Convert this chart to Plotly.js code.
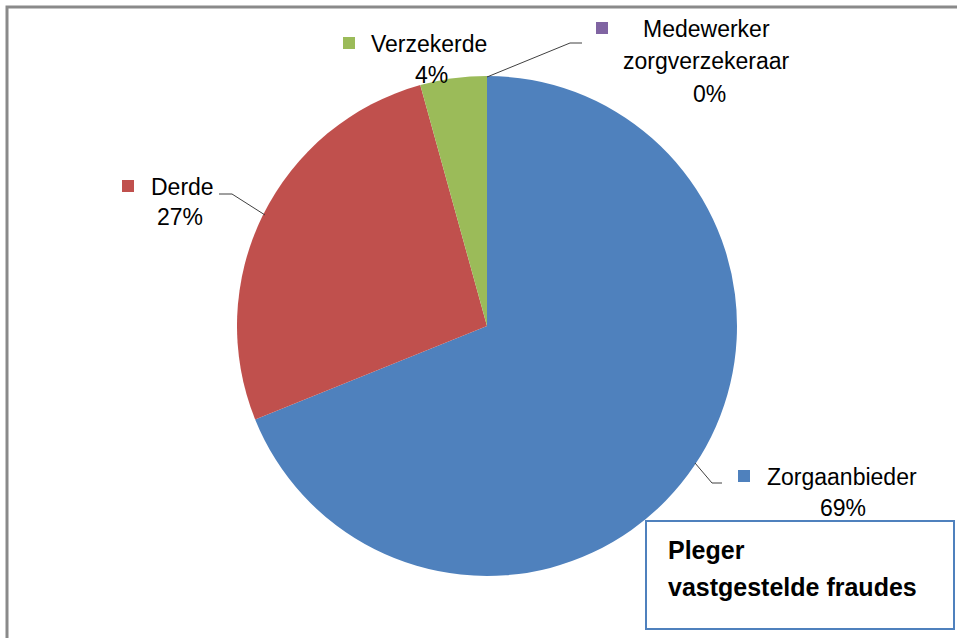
<!DOCTYPE html>
<html>
<head>
<meta charset="utf-8">
<script src="https://cdn.plot.ly/plotly-3.0.1.min.js"></script>
<style>html,body{margin:0;padding:0;background:#fff;}#chart{width:957px;height:638px;}</style>
</head>
<body>
<div id="chart"></div>
<script>
// ---- data ----
const categories = ["Zorgaanbieder", "Derde", "Verzekerde", "Medewerker zorgverzekeraar"];
const values = [68.9, 26.8, 4.3, 0];
const colors = ["#4F81BD", "#C0504D", "#9BBB59", "#8064A2"];
const chartTitle = ["Pleger", "vastgestelde fraudes"];

// ---- layout helpers (pixel -> paper) ----
const W = 957, H = 638;
const px = x => x / W;
const py = y => 1 - y / H;
const FONT = "Liberation Sans, Arial, sans-serif";
const FS = 23;

const total = values.reduce((a, b) => a + b, 0);
const pct = values.map(v => Math.round(v / total * 100) + "%");

const labelPos = [
  {key: [738, 470], nameLines: [{t: categories[0], x: 765, y: 477, a: "left"}], pct: [843, 508]},
  {key: [122, 180], nameLines: [{t: categories[1], x: 149, y: 187, a: "left"}], pct: [180, 217]},
  {key: [343, 37], nameLines: [{t: categories[2], x: 369, y: 44, a: "left"}], pct: [431, 75]},
  {key: [596, 22], nameLines: [{t: "Medewerker", x: 641, y: 29, a: "left"}, {t: "zorgverzekeraar", x: 706, y: 61, a: "center"}], pct: [709, 94]}
];

const annotations = [];
const shapes = [];

labelPos.forEach((p, i) => {
  shapes.push({type: "rect", xref: "paper", yref: "paper",
    x0: px(p.key[0]), x1: px(p.key[0] + 12), y0: py(p.key[1]), y1: py(p.key[1] + 12),
    fillcolor: colors[i], line: {width: 0}});
  p.nameLines.forEach(l => {
    annotations.push({xref: "paper", yref: "paper", x: px(l.x), y: py(l.y), text: l.t,
      showarrow: false, xanchor: l.a, yanchor: "middle", font: {family: FONT, size: FS, color: "#000"}});
  });
  annotations.push({xref: "paper", yref: "paper", x: px(p.pct[0]), y: py(p.pct[1]), text: pct[i],
    showarrow: false, xanchor: "center", yanchor: "middle", font: {family: FONT, size: FS, color: "#000"}});
});

// leader lines
const leaders = [
  [[695, 463], [712, 483], [722, 483]],
  [[265, 215], [232, 194], [219, 194]],
  [[487, 77], [570, 43], [582, 43]]
];
leaders.forEach(pts => {
  for (let k = 0; k < pts.length - 1; k++) {
    shapes.push({type: "line", xref: "paper", yref: "paper",
      x0: px(pts[k][0]), y0: py(pts[k][1]), x1: px(pts[k + 1][0]), y1: py(pts[k + 1][1]),
      line: {color: "#404040", width: 1}});
  }
});

// outer frame
shapes.push({type: "rect", xref: "paper", yref: "paper",
  x0: px(7), y0: py(7), x1: px(990), y1: py(680), line: {color: "#8a8a8a", width: 3}});
// title box
shapes.push({type: "rect", xref: "paper", yref: "paper",
  x0: px(646), y0: py(521), x1: px(954), y1: py(629), fillcolor: "#ffffff", line: {color: "#4F81BD", width: 2}, layer: "above"});

[550, 587].forEach((yy, k) => {
  annotations.push({xref: "paper", yref: "paper", x: px(666), y: py(yy), text: "<b>" + chartTitle[k] + "</b>",
    showarrow: false, xanchor: "left", yanchor: "middle", align: "left",
    font: {family: FONT, size: 25, color: "#000"}});
});

const trace = {
  type: "pie",
  labels: categories,
  values: values,
  marker: {colors: colors, line: {width: 0}},
  sort: false,
  direction: "clockwise",
  rotation: 0,
  textinfo: "none",
  hoverinfo: "label+percent",
  showlegend: false,
  domain: {x: [px(237), px(737)], y: [py(576), py(76)]}
};

const layout = {
  width: W, height: H,
  margin: {l: 0, r: 0, t: 0, b: 0},
  paper_bgcolor: "#ffffff",
  showlegend: false,
  shapes: shapes,
  annotations: annotations
};

Plotly.newPlot("chart", [trace], layout, {displayModeBar: false, staticPlot: true});
</script>
</body>
</html>
